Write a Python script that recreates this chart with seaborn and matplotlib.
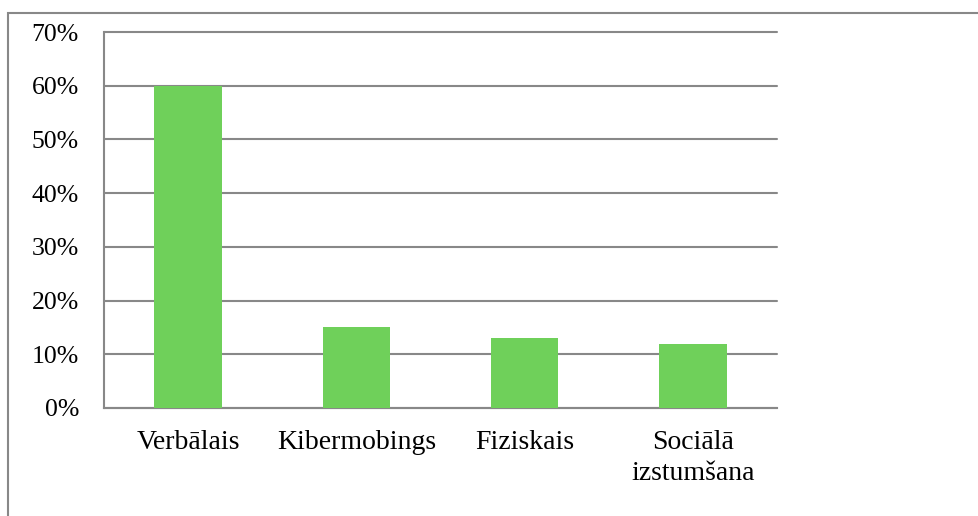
import matplotlib
matplotlib.use("Agg")
import matplotlib.pyplot as plt
import seaborn as sns
import pandas as pd
from matplotlib.patches import Rectangle
from matplotlib.ticker import FuncFormatter

categories = ["Verbālais", "Kibermobings", "Fiziskais", "Sociālā\nizstumšana"]
values = [60, 15, 13, 12]
yticks = [0, 10, 20, 30, 40, 50, 60, 70]

sns.set_style("white")
plt.rcParams['font.family'] = ['Liberation Serif', 'DejaVu Serif']

df = pd.DataFrame({"kat": categories, "val": values})

fig = plt.figure(figsize=(9.79, 5.16), dpi=100)
W, H = 979, 516
ax = fig.add_axes([104 / W, 1 - 408 / H, (777 - 104) / W, (408 - 32) / H])

sns.barplot(data=df, x="kat", y="val", color="#6FD05A", saturation=1, width=0.4,
            linewidth=0, ax=ax, zorder=3)

ax.set_ylim(0, 70)
ax.set_yticks(yticks)
ax.yaxis.set_major_formatter(FuncFormatter(lambda v, p: f"{int(v)}%"))
ax.grid(axis="y", color="#888888", linewidth=1.5, zorder=0)
for gl in ax.get_ygridlines():
    gl.set_clip_on(False)
ax.set_axisbelow(True)
ax.set_xlabel("")
ax.set_ylabel("")
for s in ["top", "right"]:
    ax.spines[s].set_visible(False)
for s in ["left", "bottom"]:
    ax.spines[s].set_color("#888888")
    ax.spines[s].set_linewidth(1.5)
ax.tick_params(axis="both", length=0, colors="black")
ax.tick_params(axis="y", pad=18, labelsize=18.5)
ax.tick_params(axis="x", pad=16, labelsize=20)
for lbl in ax.get_xticklabels():
    lbl.set_linespacing(1.28)

# outer border of the chart area
fig.patches.append(Rectangle((8 / W, -0.1), 1.2, 1 - 13 / H + 0.1, transform=fig.transFigure,
                             fill=False, edgecolor="#888888", linewidth=1.5))

fig.savefig("out.png", dpi=100)
